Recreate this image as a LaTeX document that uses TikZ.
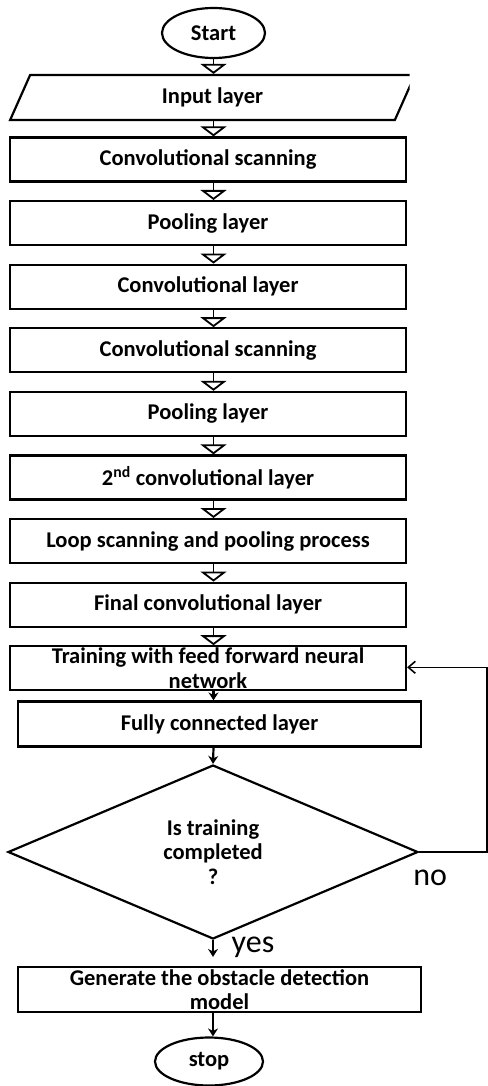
\documentclass[tikz,border=0pt]{standalone}
\usepackage{fontspec}
\setmainfont{Carlito}
\usetikzlibrary{arrows.meta, positioning, shapes.geometric}

\begin{document}
\begin{tikzpicture}[
  x=1pt, y=1pt,
  font=\fontsize{22.5}{24.5}\selectfont\bfseries,
  stepbox/.style={
    draw,
    line width=2.2pt,
    minimum width=396pt,
    minimum height=44pt,
    inner sep=0pt
  },
  wrapbox/.style={
    draw,
    line width=2.2pt,
    minimum height=45pt,
    inner sep=0pt
  },
  term/.style={
    draw,
    ellipse,
    line width=2.2pt,
    inner sep=0pt
  },
  inbox/.style={
    draw,
    trapezium,
    trapezium left angle=74,
    trapezium right angle=106,
    trapezium stretches=true,
    line width=2.2pt,
    minimum width=405pt,
    minimum height=45pt,
    inner sep=0pt
  },
  check/.style={
    draw,
    diamond,
    line width=2.2pt,
    minimum width=410pt,
    minimum height=174pt,
    inner sep=0pt,
    align=center
  },
  ans/.style={font=\fontsize{32}{34}\selectfont},
  flow/.style={-{Triangle[open, width=26pt, length=10pt, line width=1.8pt]}, line width=1.8pt},
  link/.style={-{Stealth[width=10pt, length=8pt]}, line width=2.2pt},
  back/.style={-{Straight Barb[width=12pt, length=7pt, line width=1.6pt]}, line width=1.6pt},
  node distance=17.4pt
]
\useasboundingbox (0,0) rectangle (487,-1086);

% Start and input
\node[term, minimum width=103pt, minimum height=50pt] (start) at (213.5,-33) {Start};
\begin{scope}
  \clip (0,0) rectangle (409.5,-140);
  \node[inbox] (input) at (212.5,-97.5) {Input layer};
\end{scope}

% Convolution / pooling chain
\node[stepbox] (c1) at (208,-159.5) {Convolutional scanning};
\node[stepbox, below=of c1] (p1) {Pooling layer};
\node[stepbox, below=of p1] (c2) {Convolutional layer};
\node[stepbox, below=of c2] (c3) {Convolutional scanning};
\node[stepbox, below=of c3] (p2) {Pooling layer};
\node[stepbox, below=of p2] (c4) {2\textsuperscript{nd} convolutional layer};
\node[stepbox, below=of c4] (loop) {Loop scanning and pooling process};
\node[stepbox, below=of loop] (final) {Final convolutional layer};
\node[stepbox, below=of final, label={[align=center]center:Training with feed forward neural\\network}] (train) {};

% Classifier and decision
\node[wrapbox, minimum width=403pt] (fc) at (219.5,-724) {Fully connected layer};
\node[check] (dec) at (213,-852) {Is training\\completed\\?};
\node[ans] (no) at ([xshift=11pt, yshift=-26pt]dec.east) {no};
\node[ans] (yes) at ([xshift=40pt, yshift=-7pt]dec.south) {yes};

% Output
\node[wrapbox, minimum width=403pt, label={[align=center]center:Generate the obstacle detection\\model}] (gen) at (219.5,-989.5) {};
\node[term, minimum width=108pt, minimum height=48pt] (stop) at (209,-1061.5) {stop};

% Hollow arrows down the chain
\draw[flow] (start.south) -- (input.north -| start);
\foreach \a/\b in {input/c1, c1/p1, p1/c2, c2/c3, c3/p2, p2/c4, c4/loop, loop/final, final/train}
  \draw[flow] (\a.south -| start) -- (\b.north -| start);

% Plain arrows
\draw[link] (train.south -| start) -- (fc.north -| start);
\draw[link] (fc.south -| start) -- (dec.north);
\draw[link] (dec.south) -- ([yshift=9pt]gen.north -| dec);
\draw[link] (gen.south -| dec) -- (stop.north -| dec);

% Retraining loop
\draw[back] (dec.east) -- ++(68,0) |- ([yshift=1pt]train.east);

\end{tikzpicture}
\end{document}
